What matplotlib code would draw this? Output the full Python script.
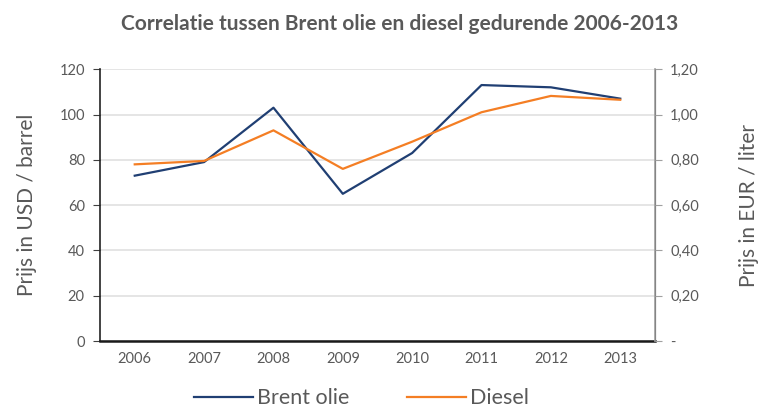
import matplotlib.pyplot as plt
from matplotlib.ticker import FixedLocator

years = ['2006', '2007', '2008', '2009', '2010', '2011', '2012', '2013']
brent = [73, 79, 103, 65, 83, 113, 112, 107]
diesel = [0.78, 0.795, 0.93, 0.76, 0.88, 1.01, 1.082, 1.065]

left_ticks = [0, 20, 40, 60, 80, 100, 120]
right_ticks = [0, 0.2, 0.4, 0.6, 0.8, 1.0, 1.2]
right_labels = ['-', '0,20', '0,40', '0,60', '0,80', '1,00', '1,20']

grey = '#595959'
plt.rcParams['font.family'] = ['Lato', 'DejaVu Sans']

fig = plt.figure(figsize=(7.58, 4.07), dpi=100)
ax = fig.add_axes([0.132, 0.162, 0.732, 0.668])
ax2 = ax.twinx()

x = list(range(len(years)))
l1, = ax.plot(x, brent, color='#203F73', lw=1.6, label='Brent olie')
l2, = ax2.plot(x, diesel, color='#F47E24', lw=1.6, label='Diesel')

ax.set_xlim(-0.5, len(years) - 0.5)
ax.set_ylim(0, 120)
ax2.set_ylim(0, 1.2)
ax.set_xticks(x)
ax.set_xticklabels(years)
ax.yaxis.set_major_locator(FixedLocator(left_ticks))
ax2.yaxis.set_major_locator(FixedLocator(right_ticks))
ax2.set_yticklabels(right_labels)

ax.grid(axis='y', color='#e0e0e0', lw=1.2)
ax.set_axisbelow(True)
ax.tick_params(axis='x', length=0, pad=8, labelsize=10.5, labelcolor=grey)
ax.tick_params(axis='y', length=5, color='#404040', pad=6, labelsize=10.5, labelcolor=grey)
ax2.tick_params(axis='y', length=5, color='#a0a0a0', pad=6, labelsize=10.5, labelcolor=grey)

for a in (ax, ax2):
    a.spines['top'].set_visible(False)
ax.spines['left'].set_color('#222222')
ax.spines['left'].set_linewidth(1.2)
ax.spines['bottom'].set_color('#1a1a1a')
ax.spines['bottom'].set_linewidth(1.8)
ax2.spines['right'].set_color('#a0a0a0')
ax2.spines['right'].set_linewidth(1.2)
ax2.spines['left'].set_visible(False)
ax2.spines['bottom'].set_visible(False)

ax.set_ylabel('Prijs in USD / barrel', fontsize=15, color=grey, labelpad=16)
ax2.set_ylabel('Prijs in EUR / liter', fontsize=15, color=grey, labelpad=29)

fig.suptitle('Correlatie tussen Brent olie en diesel gedurende 2006-2013',
             fontsize=15, fontweight='bold', color=grey, x=0.527, y=0.965)

fig.legend(handles=[l1, l2], loc='center', bbox_to_anchor=(0.477, 0.022),
           ncol=2, frameon=False, fontsize=15.5, labelcolor=grey,
           handlelength=2.7, columnspacing=2.7, handletextpad=0.2)

fig.savefig('out.png', dpi=100)
